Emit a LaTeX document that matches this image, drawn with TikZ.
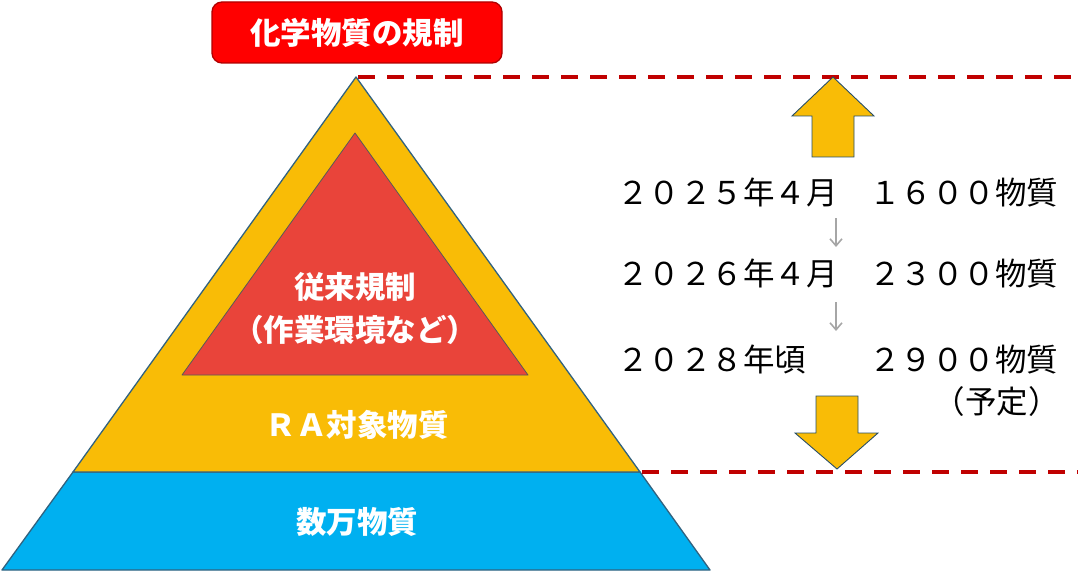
\documentclass[tikz,border=0pt]{standalone}
\usepackage{fontspec}
\setmainfont{Noto Sans CJK JP}
\usetikzlibrary{arrows.meta}
\definecolor{pyrgold}{HTML}{F9BC06}
\definecolor{pyrblue}{HTML}{00B0F0}
\definecolor{pyrred}{HTML}{E9443A}
\definecolor{pyrline}{HTML}{31627F}
\definecolor{titlered}{HTML}{FF0000}
\definecolor{titleborder}{HTML}{B00000}
\definecolor{dashred}{HTML}{C00000}
\definecolor{smallgray}{HTML}{A6A6A6}
\tikzset{
  pyredge/.style={draw=pyrline, line width=1.3pt, line join=round},
  redtri/.style={draw=black!65, line width=0.8pt, fill=pyrred, line join=round},
  bigarrow/.style={draw=pyrline!80!black, line width=0.9pt, fill=pyrgold, line join=miter},
  levelline/.style={draw=dashred, line width=3.5pt, dash pattern=on 17pt off 12pt},
  steparrow/.style={draw=smallgray, line width=1.6pt, -{Straight Barb[length=7pt,width=12pt,line width=1.6pt]}},
  whitelabel/.style={text=white, font=\fontsize{30.5}{43}\selectfont\bfseries, align=center, inner sep=0pt},
  datelabel/.style={text=black, font=\fontsize{31.5}{38}\selectfont, anchor=west, inner sep=0pt},
  titlebox/.style={draw=titleborder, line width=1.3pt, fill=titlered, rounded corners=10pt,
    minimum width=290pt, minimum height=61pt, text=white,
    font=\fontsize{30.5}{36}\selectfont\bfseries, inner sep=0pt}
}
\begin{document}
\begin{tikzpicture}[x=1pt,y=-1pt]
\useasboundingbox (0,0) rectangle (1078,572);
% pyramid corners
\coordinate (apex) at (356,77);
\coordinate (ml) at (73,472);
\coordinate (mr) at (640,472);
\coordinate (bl) at (2,570);
\coordinate (br) at (710,570);
\coordinate (rt) at (355,133);
\coordinate (rl) at (182,375);
\coordinate (rr) at (528,375);
% bottom layer
\draw[pyredge, fill=pyrblue] (ml) -- (mr) -- (br) -- (bl) -- cycle;
% middle layer
\draw[pyredge, fill=pyrgold] (apex) -- (mr) -- (ml) -- cycle;
% inner triangle
\draw[redtri] (rt) -- (rr) -- (rl) -- cycle;
% dashed level lines
\coordinate (topend) at (1078,77);
\coordinate (botend) at (1078,472);
\draw[levelline] ([xshift=2pt]apex) -- (topend);
\draw[levelline] ([xshift=2pt]mr) -- (botend);
% big arrows
\draw[bigarrow] (833,77) -- (874,116) -- (854,116) -- (854,157) -- (812,157) -- (812,116) -- (792,116) -- cycle;
\draw[bigarrow] (816,396) -- (858,396) -- (858,433) -- (878,433) -- (837,469) -- (795,433) -- (816,433) -- cycle;
% title
\node[titlebox] (title) at (357,32.5) {化学物質の規制};
% pyramid labels
\node[whitelabel] (conv) at (355,308.5) {従来規制\\（作業環境など）};
\node[whitelabel] (ra) at (357,425) {ＲＡ対象物質};
\node[whitelabel] (many) at (357,522) {数万物質};
% timeline
\node[datelabel] (d1) at (617,192.5) {２０２５年４月　１６００物質};
\node[datelabel] (d2) at (617,274) {２０２６年４月　２３００物質};
\node[datelabel] (d3) at (617,359.5) {２０２８年頃　　２９００物質};
\node[text=black, font=\fontsize{31.5}{38}\selectfont, anchor=east, inner sep=0pt] (plan) at (1060,402) {（予定）};
\coordinate (g1a) at (836,218);
\coordinate (g1b) at (836,247);
\coordinate (g2a) at (836,302);
\coordinate (g2b) at (836,331);
\draw[steparrow] (g1a) -- (g1b);
\draw[steparrow] (g2a) -- (g2b);
\end{tikzpicture}
\end{document}
